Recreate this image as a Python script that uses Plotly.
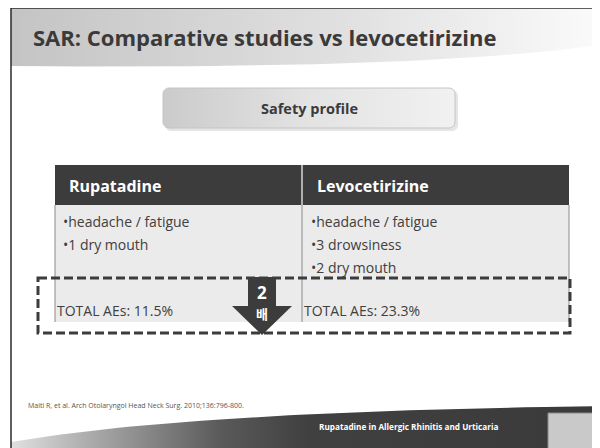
import numpy as np
import plotly.graph_objects as go

# ---------------- data ----------------
slide_title = "SAR: Comparative studies vs levocetirizine"
section_label = "Safety profile"
drugs = ["Rupatadine", "Levocetirizine"]
adverse_events = [
    ["headache / fatigue", "1 dry mouth"],
    ["headache / fatigue", "3 drowsiness", "2 dry mouth"],
]
total_ae_pct = [11.5, 23.3]
fold_label = ["2", "배"]
citation = "Maiti R, et al. Arch Otolaryngol Head Neck Surg. 2010;136:796-800."
footer_text = "Rupatadine in Allergic Rhinitis and Urticaria"

# ---------------- layout constants (screen coordinates) ----------------
W, H = 600, 448
OFF = 8  # page body margin
FONT = "Open Sans"
SLIDE_L, SLIDE_T = 11, 8
TBL_L, TBL_R, TBL_DIV = 55, 569, 302
HDR_T, HDR_B = 165, 205
BODY_B = 278
TOT_B = 322
DASH_L, DASH_R, DASH_T, DASH_B = 38, 570, 278, 333
LINE_Y0, LINE_DY = 221, 23
ARROW_CX = 262


def bezier(p0, p1, p2, n=40):
    t = np.linspace(0, 1, n)
    x = (1 - t) ** 2 * p0[0] + 2 * (1 - t) * t * p1[0] + t ** 2 * p2[0]
    y = (1 - t) ** 2 * p0[1] + 2 * (1 - t) * t * p1[1] + t ** 2 * p2[1]
    return list(x), list(y)


def rounded_rect(x0, y0, x1, y1, r, n=8):
    xs, ys = [], []
    corners = [(x1 - r, y0 + r, -90, 0), (x1 - r, y1 - r, 0, 90),
               (x0 + r, y1 - r, 90, 180), (x0 + r, y0 + r, 180, 270)]
    for cx, cy, a0, a1 in corners:
        a = np.radians(np.linspace(a0, a1, n))
        xs += list(cx + r * np.cos(a))
        ys += list(cy + r * np.sin(a))
    xs.append(xs[0]); ys.append(ys[0])
    return xs, ys


fig = go.Figure()
XR = W + OFF

# title band (gradient)
bx, by = bezier((XR, 44), (430, 70), (SLIDE_L, 66))
fig.add_trace(go.Scatter(
    x=[SLIDE_L, XR] + bx + [SLIDE_L], y=[SLIDE_T, SLIDE_T] + by + [SLIDE_T],
    fill="toself", mode="lines", line=dict(width=0), hoverinfo="skip",
    fillgradient=dict(type="horizontal",
                      colorscale=[[0, "#c4c4c4"], [0.55, "#e0e0e0"], [1, "#fbfbfb"]]),
    showlegend=False))

# safety profile box shadow + box
sx, sy = rounded_rect(165, 90, 458, 131, 6)
fig.add_trace(go.Scatter(x=sx, y=sy, fill="toself", mode="lines", line=dict(width=0),
                         fillcolor="rgba(0,0,0,0.10)", hoverinfo="skip", showlegend=False))
rx, ry = rounded_rect(163, 88, 455, 128, 6)
fig.add_trace(go.Scatter(
    x=rx, y=ry, fill="toself", mode="lines", line=dict(width=1, color="#c4c4c4"),
    hoverinfo="skip", showlegend=False,
    fillgradient=dict(type="horizontal",
                      colorscale=[[0, "#cbcbcb"], [0.5, "#e3e3e3"], [1, "#f1f1f1"]])))

# footer band (gradient)
fx, fy = bezier((SLIDE_L, 442), (190, 411), (XR, 406))
fig.add_trace(go.Scatter(
    x=fx + [XR, SLIDE_L, SLIDE_L], y=fy + [H + OFF, H + OFF, 442],
    fill="toself", mode="lines", line=dict(width=0), hoverinfo="skip",
    fillgradient=dict(type="horizontal",
                      colorscale=[[0, "#e0e0e0"], [0.12, "#b0b0b0"], [0.35, "#5a5a5a"],
                                  [0.5, "#404040"], [1, "#3a3a3a"]]),
    showlegend=False))

shapes = []
# table header
shapes.append(dict(type="rect", x0=TBL_L, x1=TBL_R, y0=HDR_T, y1=HDR_B,
                   fillcolor="#3c3c3c", line=dict(width=0)))
shapes.append(dict(type="line", x0=TBL_DIV, x1=TBL_DIV, y0=HDR_T, y1=HDR_B,
                   line=dict(color="#d8d8d8", width=1.5)))
# body + total rows
shapes.append(dict(type="rect", x0=TBL_L, x1=TBL_R, y0=HDR_B, y1=TOT_B,
                   fillcolor="#ebebeb", line=dict(width=0)))
for xv in (TBL_L, TBL_DIV, TBL_R):
    shapes.append(dict(type="line", x0=xv, x1=xv, y0=HDR_B, y1=TOT_B,
                       line=dict(color="#8a8a8a", width=1)))
# dashed highlight box
shapes.append(dict(type="rect", x0=DASH_L, x1=DASH_R, y0=DASH_T, y1=DASH_B,
                   fillcolor="rgba(0,0,0,0)",
                   line=dict(color="#3c3c3c", width=3, dash="9px,4px")))
# arrow
aw, hw = 14, 30
arrow_path = (f"M{ARROW_CX-aw},{DASH_T-1} L{ARROW_CX+aw},{DASH_T-1} L{ARROW_CX+aw},306 "
              f"L{ARROW_CX+hw},306 L{ARROW_CX},335 L{ARROW_CX-hw},306 L{ARROW_CX-aw},306 Z")
shapes.append(dict(type="path", path=arrow_path, fillcolor="#3c3c3c", line=dict(width=0)))
# footer right box
shapes.append(dict(type="rect", x0=548, x1=XR + 2, y0=413, y1=H + OFF + 2,
                   fillcolor="#c9c9c9", line=dict(color="#8a8a8a", width=1)))
# slide borders
shapes.append(dict(type="line", x0=SLIDE_L, x1=XR, y0=SLIDE_T, y1=SLIDE_T,
                   line=dict(color="#2a2a2a", width=1.5)))
shapes.append(dict(type="line", x0=SLIDE_L, x1=SLIDE_L, y0=SLIDE_T, y1=H + OFF,
                   line=dict(color="#2a2a2a", width=1.5)))
for s in shapes:
    s.update(xref="x", yref="y", layer="above")

ann = []
ann.append(dict(x=31, y=37, text=f"<b>{slide_title}</b>", xanchor="left", yanchor="middle",
                font=dict(family=FONT, size=22, color="#3a3a3a")))
ann.append(dict(x=309, y=108, text=f"<b>{section_label}</b>", xanchor="center", yanchor="middle",
                font=dict(family=FONT, size=14.5, color="#3a3a3a")))
col_x = [TBL_L + 12, TBL_DIV + 13]
for i, d in enumerate(drugs):
    ann.append(dict(x=col_x[i], y=186, text=f"<b>{d}</b>", xanchor="left", yanchor="middle",
                    font=dict(family=FONT, size=16, color="white")))
    for j, ev in enumerate(adverse_events[i]):
        ann.append(dict(x=col_x[i] - 6, y=LINE_Y0 + j * LINE_DY, text="•" + ev,
                        xanchor="left", yanchor="middle",
                        font=dict(family=FONT, size=14, color="#404040")))
    ann.append(dict(x=[TBL_L, TBL_DIV][i], y=310, text=f"TOTAL AEs: {total_ae_pct[i]}%",
                    xanchor="left", yanchor="middle",
                    font=dict(family=FONT, size=14, color="#404040")))
ann.append(dict(x=ARROW_CX, y=292, text=f"<b>{fold_label[0]}</b>", xanchor="center",
                yanchor="middle", font=dict(family=FONT, size=17, color="white")))
ann.append(dict(x=ARROW_CX, y=313, text=f"<b>{fold_label[1]}</b>", xanchor="center",
                yanchor="middle", font=dict(family="Noto Sans CJK KR", size=13, color="white")))
ann.append(dict(x=26, y=405, text=citation, xanchor="left", yanchor="middle",
                font=dict(family=FONT, size=7, color="#555555")))
ann.append(dict(x=408, y=426, text=f"<b>{footer_text}</b>", xanchor="center", yanchor="middle",
                font=dict(family=FONT, size=8.2, color="white")))
for a in ann:
    a.update(xref="x", yref="y", showarrow=False)

fig.update_layout(
    width=W, height=H, margin=dict(l=0, r=0, t=0, b=0),
    paper_bgcolor="white", plot_bgcolor="white",
    xaxis=dict(range=[OFF, W + OFF], visible=False, fixedrange=True),
    yaxis=dict(range=[H + OFF, OFF], visible=False, fixedrange=True),
    shapes=shapes, annotations=ann, showlegend=False,
)
fig.write_html("out.html")
